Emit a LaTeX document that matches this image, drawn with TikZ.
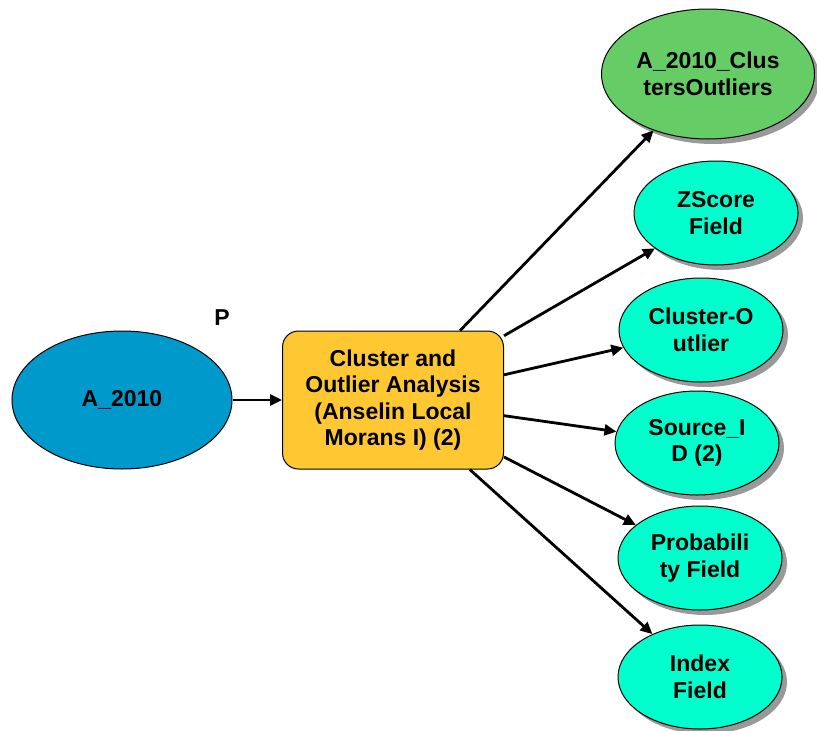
\documentclass[tikz,border=0pt]{standalone}
\usepackage{fontspec}
\setmainfont{Liberation Sans}
\usetikzlibrary{shapes.geometric, arrows.meta, shadows}
\definecolor{inblue}{RGB}{0,153,204}
\definecolor{toolyellow}{RGB}{255,200,50}
\definecolor{outgreen}{RGB}{102,204,102}
\definecolor{fieldcyan}{RGB}{0,255,204}
\tikzstyle{dataset} = [ellipse, minimum width=220pt, minimum height=138pt, inner sep=0pt, text centered, draw=black, fill=inblue]
\tikzstyle{tool} = [rectangle, rounded corners=16pt, minimum width=221pt, minimum height=138pt, align=center, draw=black, fill=toolyellow]
\tikzstyle{result} = [ellipse, minimum width=213pt, minimum height=130pt, inner sep=0pt, align=center, draw=black, fill=outgreen, drop shadow={shadow xshift=5pt, shadow yshift=-5pt, fill=black!40, opacity=1}]
\tikzstyle{field} = [ellipse, minimum width=164pt, minimum height=104pt, inner sep=0pt, align=center, draw=black, fill=fieldcyan, drop shadow={shadow xshift=5pt, shadow yshift=-5pt, fill=black!40, opacity=1}]
\tikzstyle{arrow} = [line width=2.8pt, -{Triangle[length=12pt, width=11pt]}]
\begin{document}
\begin{tikzpicture}[x=1pt, y=-1pt, font=\bfseries\fontsize{23}{26.5}\selectfont, line width=1pt]
    \useasboundingbox (0,0) rectangle (817,731);
    \node (a2010) [dataset] at (122,400) {A\_2010};
    \node (plabel) at (222,318) {P};
    \node (colo) [tool] at (393,400) {Cluster and\\Outlier Analysis\\(Anselin Local\\Morans I) (2)};
    \node (clusters) [result] at (708,74) {A\_2010\_Clus\\tersOutliers};
    \node (zscore) [field] at (716,213) {ZScore\\Field};
    \node (cotype) [field] at (701,330) {Cluster-O\\utlier};
    \node (srcid) [field] at (697,443) {Source\_I\\D (2)};
    \node (prob) [field] at (700,558) {Probabili\\ty Field};
    \node (index) [field] at (700,677) {Index\\Field};
    \draw [arrow] (a2010) -- (colo);
    \draw [arrow] (colo) -- (clusters);
    \draw [arrow] (colo) -- (zscore);
    \draw [arrow] (colo) -- (cotype);
    \draw [arrow] (colo) -- (srcid);
    \draw [arrow] (colo) -- (prob);
    \draw [arrow] (colo) -- (index);
\end{tikzpicture}
\end{document}
